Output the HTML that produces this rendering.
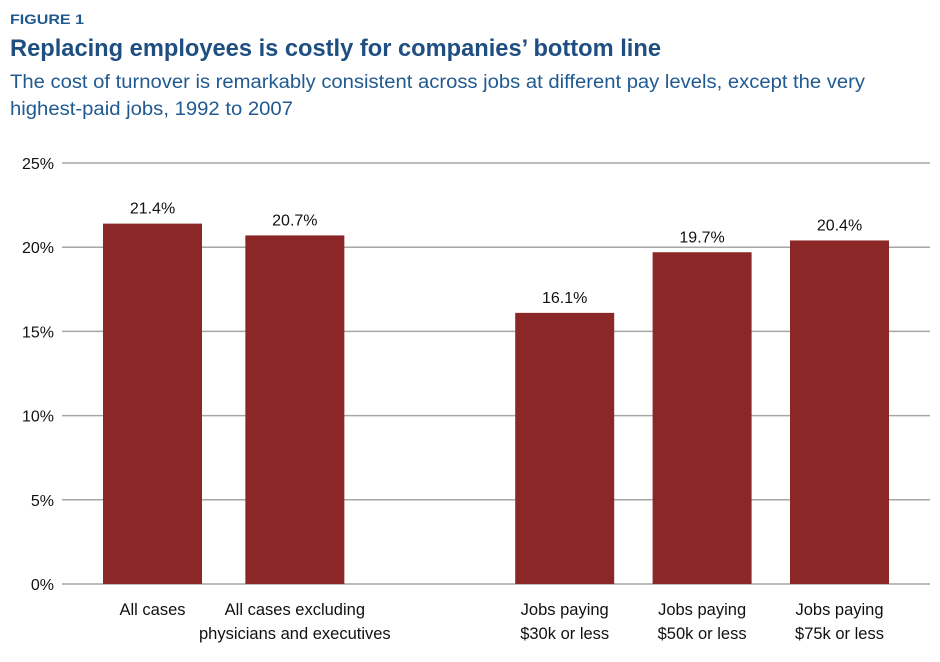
<!DOCTYPE html>
<html><head><meta charset="utf-8"><style>
body{margin:0;background:#fff;}
svg{display:block;font-family:"Liberation Sans",sans-serif;}
</style></head><body>
<svg id="chart" width="940" height="662">
<text x="10" y="24" font-size="14" font-weight="bold" fill="#215a91" textLength="74" lengthAdjust="spacingAndGlyphs">FIGURE 1</text>
<text x="10" y="56" font-size="24" font-weight="bold" fill="#1f4e80" textLength="651" lengthAdjust="spacingAndGlyphs">Replacing employees is costly for companies’ bottom line</text>
<text x="10" y="88" font-size="19" fill="#215a91" textLength="855" lengthAdjust="spacingAndGlyphs">The cost of turnover is remarkably consistent across jobs at different pay levels, except the very</text>
<text x="10" y="115" font-size="19" fill="#215a91" textLength="283" lengthAdjust="spacingAndGlyphs">highest-paid jobs, 1992 to 2007</text>
<g id="grid"></g><g id="bars"></g>
</svg>
<script>
const categories=[["All cases"],["All cases excluding","physicians and executives"],["Jobs paying","$30k or less"],["Jobs paying","$50k or less"],["Jobs paying","$75k or less"]];
const slots=[0,1.036,3,4,5];
const values=[21.4,20.7,16.1,19.7,20.4];
const ticks=[0,5,10,15,20,25];
const NS="http://www.w3.org/2000/svg";
const y=v=>584-v*(421/25);
const xc=s=>152.5+s*137.4;
function mk(t,a,p){const e=document.createElementNS(NS,t);for(const k in a)e.setAttribute(k,a[k]);p.appendChild(e);return e;}
const g=document.getElementById('grid'),b=document.getElementById('bars');
ticks.forEach(t=>{
 const l=mk('line',{x1:62,x2:930,y1:y(t),y2:y(t),stroke:'#a6a6a6','stroke-width':1.5},g);
 
 
 const tx=mk('text',{x:54,y:y(t)+6,'font-size':16,'text-anchor':'end',fill:'#111'},g);
 tx.textContent=t+'%';
 
 
});
values.forEach((v,i)=>{
 const c=xc(slots[i]);
 const r=mk('rect',{x:c-49.5,width:99,y:y(v),height:y(0)-y(v),fill:'#8b2726'},b);
 
 
 const lb=mk('text',{x:c,y:y(v)-10,'font-size':16,'text-anchor':'middle',fill:'#111'},b);
 lb.textContent=v.toFixed(1)+'%';
 
 
 categories[i].forEach((s,j)=>{
  const ct=mk('text',{x:c,y:615+j*24,'font-size':16.5,'text-anchor':'middle',fill:'#111'},b);
  ct.textContent=s;
  
  
 });
});
</script>
</body></html>
